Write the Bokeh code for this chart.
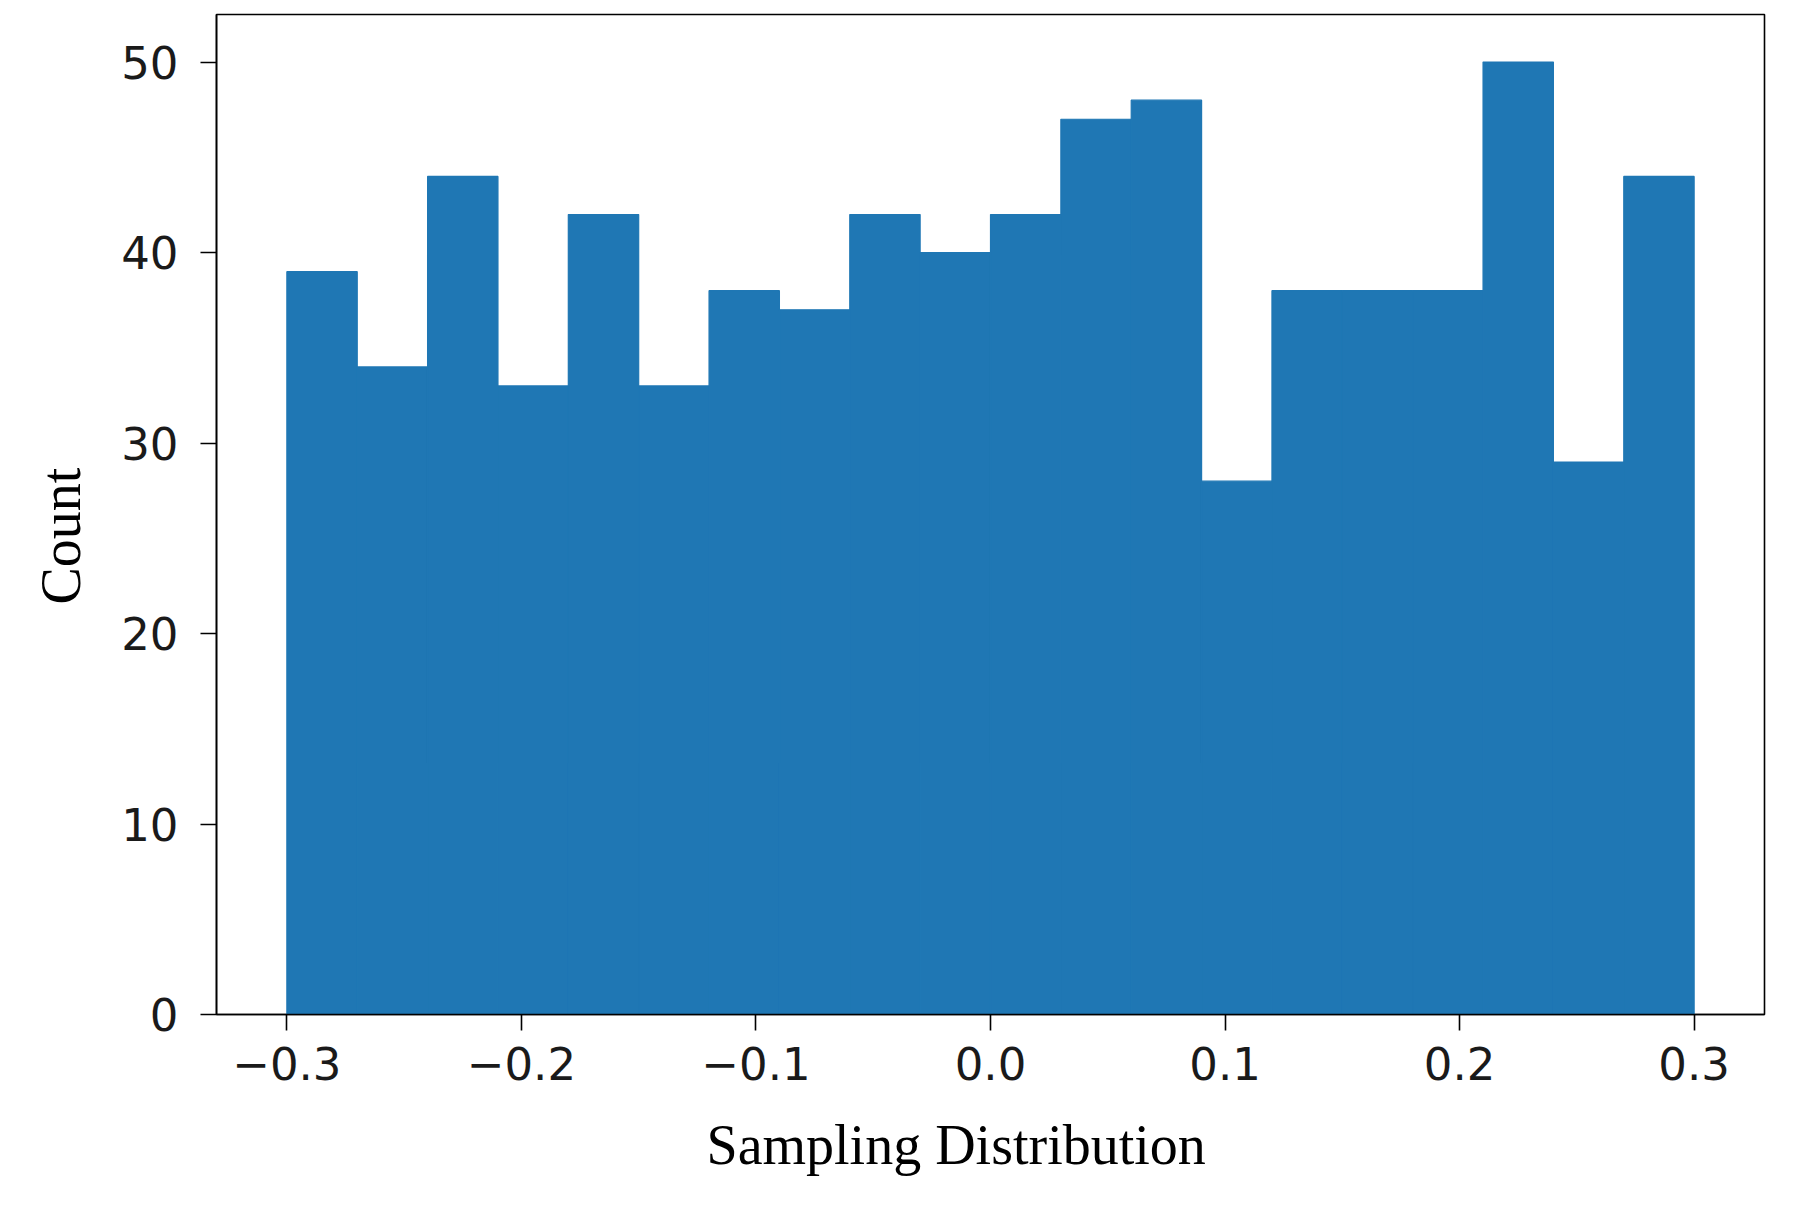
from bokeh.plotting import figure
from bokeh.models import Range1d, FixedTicker, CustomJSTickFormatter, ColumnDataSource, Title
from bokeh.embed import file_html
from bokeh.resources import INLINE

# Histogram data: 20 bins from -0.3 to 0.3
bin_left = [-0.30, -0.27, -0.24, -0.21, -0.18, -0.15, -0.12, -0.09, -0.06, -0.03,
            0.00, 0.03, 0.06, 0.09, 0.12, 0.15, 0.18, 0.21, 0.24, 0.27]
bin_right = [-0.27, -0.24, -0.21, -0.18, -0.15, -0.12, -0.09, -0.06, -0.03, 0.00,
             0.03, 0.06, 0.09, 0.12, 0.15, 0.18, 0.21, 0.24, 0.27, 0.30]
counts = [39, 34, 44, 33, 42, 33, 38, 37, 42, 40,
          42, 47, 48, 28, 38, 38, 38, 50, 29, 44]

x_ticks = [-0.3, -0.2, -0.1, 0.0, 0.1, 0.2, 0.3]
y_ticks = [0, 10, 20, 30, 40, 50]
x_title = "Sampling Distribution"
y_title = "Count"

src = ColumnDataSource(dict(left=bin_left, right=bin_right, top=counts,
                            bottom=[0] * len(counts)))

W, H = 1784, 1204
p = figure(width=W, height=H, output_backend="svg", toolbar_location=None,
           x_range=Range1d(-0.33, 0.33), y_range=Range1d(0, 52.5),
           min_border_left=216, min_border_right=20, min_border_top=14,
           min_border_bottom=189)

p.quad(left="left", right="right", top="top", bottom="bottom", source=src,
       fill_color="#1f77b4", line_color="#1f77b4", line_width=1.2)

p.grid.visible = False
p.outline_line_color = "black"
p.outline_line_width = 1.6
p.background_fill_color = "white"
p.border_fill_color = "white"

for ax in (p.xaxis[0], p.yaxis[0]):
    ax.axis_line_color = "black"
    ax.axis_line_width = 1.6
    ax.major_tick_line_color = "black"
    ax.major_tick_line_width = 1.6
    ax.major_tick_out = 16
    ax.major_tick_in = 0
    ax.minor_tick_line_color = None
    ax.major_label_text_font = "DejaVu Sans"
    ax.major_label_text_font_size = "45px"
    ax.major_label_text_color = "#1a1a1a"

p.xaxis[0].ticker = FixedTicker(ticks=x_ticks)
p.xaxis[0].formatter = CustomJSTickFormatter(
    code="return tick.toFixed(1).replace('-', '\u2212');")
p.xaxis[0].major_label_standoff = 16

p.yaxis[0].ticker = FixedTicker(ticks=y_ticks)
p.yaxis[0].major_label_standoff = 22

# axis titles sit slightly off-centre in the reference
p.add_layout(Title(text=x_title, align="left", offset=490, standoff=58,
                   text_font="Liberation Serif", text_font_style="normal",
                   text_font_size="56px", text_color="black"), "below")
p.add_layout(Title(text=y_title, align="left", offset=410, standoff=53,
                   text_font="Liberation Serif", text_font_style="normal",
                   text_font_size="56px", text_color="black"), "left")

open("out.html", "w").write(file_html(p, INLINE))
